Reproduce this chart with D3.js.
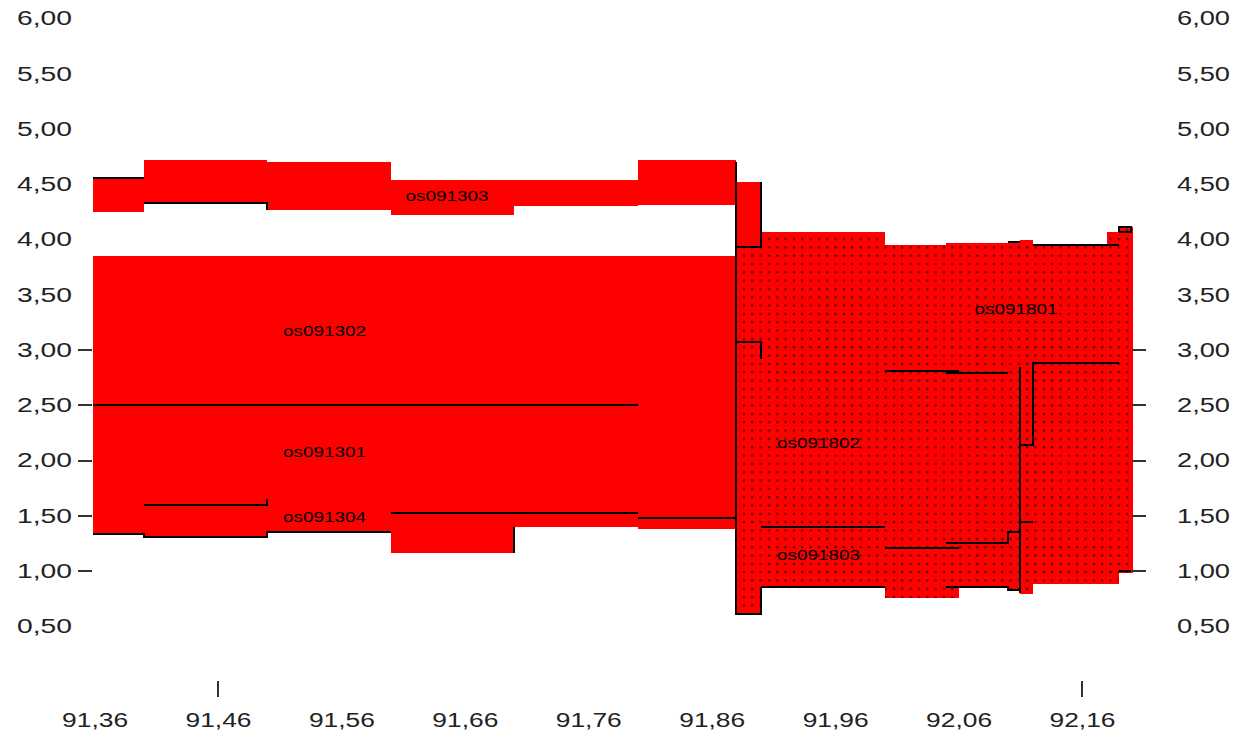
<!DOCTYPE html>
<html><head><meta charset="utf-8">
<script src="https://cdn.jsdelivr.net/npm/d3@7/dist/d3.min.js"></script>
<style>html,body{margin:0;padding:0;background:#fff;}svg{display:block;}</style>
</head><body>
<svg id="chart" width="1236" height="737"></svg>
<script>
// ---------- DATA ----------
const xTickValues = [91.36, 91.46, 91.56, 91.66, 91.76, 91.86, 91.96, 92.06, 92.16];
const xTickMarks = [91.46, 92.16];
const yTickValues = [0.5, 1, 1.5, 2, 2.5, 3, 3.5, 4, 4.5, 5, 5.5, 6];
const yTickMarks = [1, 1.5, 2, 2.5, 3];

// os091303 band (solid)
const bandTopX    = [91.3587, 91.40, 91.50, 91.60, 91.70, 91.80, 91.88, 91.90];
const bandTopHigh = [4.553, 4.72, 4.70, 4.54, 4.54, 4.72, 4.52];
const bandTopLow  = [4.25, 4.33, 4.27, 4.22, 4.30, 4.31, 3.935];

// os091302 / os091301 / os091304 block (solid)
const blockX    = [91.3587, 91.40, 91.50, 91.60, 91.70, 91.80, 91.88];
const blockHigh = [3.85, 3.85, 3.85, 3.85, 3.85, 3.85];
const blockLow  = [1.335, 1.31, 1.353, 1.166, 1.40, 1.38];

// os091801 / os091802 / os091803 (dotted)
const dotX    = [91.88, 91.90, 92.00, 92.05, 92.06, 92.10, 92.11, 92.12, 92.18, 92.19, 92.201];
const dotHigh = [3.935, 4.07, 3.95, 3.966, 3.966, 3.98, 3.995, 3.95, 4.07, 4.115];
const dotLow  = [0.61, 0.855, 0.755, 0.755, 0.855, 0.83, 0.79, 0.88, 0.88, 0.98];

// black boundary lines [x, y]
const boundaryLines = [
  [[91.3587,4.553],[91.40,4.553]],
  [[91.40,4.33],[91.50,4.33],[91.50,4.27]],
  [[91.3587,2.50],[91.80,2.50]],
  [[91.40,1.60],[91.50,1.60],[91.50,1.65]],
  [[91.60,1.525],[91.80,1.525]],
  [[91.80,1.477],[91.88,1.477]],
  [[91.3587,1.335],[91.40,1.335],[91.40,1.31],[91.50,1.31],[91.50,1.353],[91.60,1.353]],
  [[91.70,1.166],[91.70,1.40]],
  [[91.88,4.70],[91.88,0.61],[91.90,0.61],[91.90,0.855]],
  [[91.88,3.935],[91.90,3.935],[91.90,4.52]],
  [[91.88,3.07],[91.90,3.07],[91.90,2.92]],
  [[91.90,1.395],[92.00,1.395]],
  [[91.90,0.855],[92.00,0.855]],
  [[92.00,2.81],[92.06,2.81]],
  [[92.05,2.79],[92.10,2.79]],
  [[92.00,1.21],[92.06,1.21]],
  [[92.05,1.256],[92.10,1.256],[92.10,1.356],[92.11,1.356]],
  [[92.05,0.855],[92.10,0.855],[92.10,0.83],[92.11,0.83]],
  [[92.11,2.85],[92.11,0.80]],
  [[92.11,2.14],[92.12,2.14],[92.12,2.885],[92.19,2.885]],
  [[92.11,1.44],[92.12,1.44]],
  [[92.10,3.98],[92.11,3.98]],
  [[92.12,3.95],[92.19,3.95]],
  [[92.19,4.07],[92.19,4.115],[92.20,4.115],[92.20,4.07],[92.19,4.07]],
  [[92.19,1.00],[92.20,1.00]]
];

const layerNames = ["os091303", "os091302", "os091301", "os091304", "os091802", "os091803", "os091801"];
const layerLabelX = [91.6455, 91.5463, 91.5463, 91.5463, 91.9465, 91.9465, 92.1065];
const layerLabelY = [4.39, 3.17, 2.08, 1.49, 2.16, 1.145, 3.37];

// ---------- CHART ----------
const svg = d3.select("#chart");
const x = d3.scaleLinear().domain([91.46, 92.16]).range([218, 1082]);
const y = d3.scaleLinear().domain([1, 3]).range([571, 350]);
const fmt = v => d3.format(".2f")(v).replace(".", ",");
const FONT = "'Liberation Sans', Arial, sans-serif";

const defs = svg.append("defs");
const pat = defs.append("pattern").attr("id", "dots")
  .attr("patternUnits", "userSpaceOnUse").attr("width", 8.33).attr("height", 8.33)
  .attr("x", 741).attr("y", 236);
pat.append("rect").attr("width", 8.4).attr("height", 8.4).attr("fill", "#ff0000");
pat.append("rect").attr("x", 2).attr("y", 2).attr("width", 2).attr("height", 2).attr("fill", "#2a1515");

function stepArea(xs, hi, lo) {
  const top = [], bot = [];
  for (let i = 0; i < hi.length; i++) {
    top.push([xs[i], hi[i]], [xs[i + 1], hi[i]]);
    bot.push([xs[i], lo[i]], [xs[i + 1], lo[i]]);
  }
  const pts = top.concat(bot.reverse());
  return "M" + pts.map(p => x(p[0]) + "," + y(p[1])).join("L") + "Z";
}

const g = svg.append("g").attr("shape-rendering", "crispEdges");
g.append("path").attr("d", stepArea(bandTopX, bandTopHigh, bandTopLow)).attr("fill", "#ff0000");
g.append("path").attr("d", stepArea(blockX, blockHigh, blockLow)).attr("fill", "#ff0000");
g.append("path").attr("d", stepArea(dotX, dotHigh, dotLow)).attr("fill", "url(#dots)");

const line = d3.line().x(d => x(d[0])).y(d => y(d[1]));
g.selectAll("path.bl").data(boundaryLines).join("path").attr("class", "bl")
  .attr("d", line).attr("fill", "none").attr("stroke", "#000").attr("stroke-width", 2);

// layer labels
svg.append("g").selectAll("text").data(layerNames).join("text")
  .attr("x", (d, i) => x(layerLabelX[i])).attr("y", (d, i) => y(layerLabelY[i]) + 5)
  .attr("text-anchor", "middle").attr("font-family", FONT).attr("font-size", 15)
  .attr("textLength", 83).attr("lengthAdjust", "spacingAndGlyphs").attr("fill", "#000")
  .text(d => d);

// left axis
const la = svg.append("g").attr("transform", "translate(92,0)")
  .call(d3.axisLeft(y).tickValues(yTickValues).tickFormat(fmt).tickSize(0).tickPadding(20));
la.select(".domain").remove();
la.selectAll("text").attr("font-family", FONT).attr("font-size", 20).attr("fill", "#222")
  .attr("textLength", 55).attr("lengthAdjust", "spacingAndGlyphs");
svg.append("g").selectAll("line").data(yTickMarks).join("line")
  .attr("x1", 78).attr("x2", 92).attr("y1", d => y(d)).attr("y2", d => y(d))
  .attr("stroke", "#333").attr("stroke-width", 2).attr("shape-rendering", "crispEdges");

// right axis
const ra = svg.append("g").attr("transform", "translate(1132,0)")
  .call(d3.axisRight(y).tickValues(yTickValues).tickFormat(fmt).tickSize(0).tickPadding(45));
ra.select(".domain").remove();
ra.selectAll("text").attr("font-family", FONT).attr("font-size", 20).attr("fill", "#222")
  .attr("textLength", 53).attr("lengthAdjust", "spacingAndGlyphs");
svg.append("g").selectAll("line").data(yTickMarks).join("line")
  .attr("x1", 1132).attr("x2", 1146).attr("y1", d => y(d)).attr("y2", d => y(d))
  .attr("stroke", "#333").attr("stroke-width", 2).attr("shape-rendering", "crispEdges");

// bottom axis
const ba = svg.append("g").attr("transform", "translate(0,705)")
  .call(d3.axisBottom(x).tickValues(xTickValues).tickFormat(fmt).tickSize(0).tickPadding(8));
ba.select(".domain").remove();
ba.selectAll("text").attr("font-family", FONT).attr("font-size", 20).attr("fill", "#222")
  .attr("textLength", 66).attr("lengthAdjust", "spacingAndGlyphs");
svg.append("g").selectAll("line").data(xTickMarks).join("line")
  .attr("x1", d => x(d)).attr("x2", d => x(d)).attr("y1", 681).attr("y2", 697)
  .attr("stroke", "#333").attr("stroke-width", 2).attr("shape-rendering", "crispEdges");
</script>
</body></html>
